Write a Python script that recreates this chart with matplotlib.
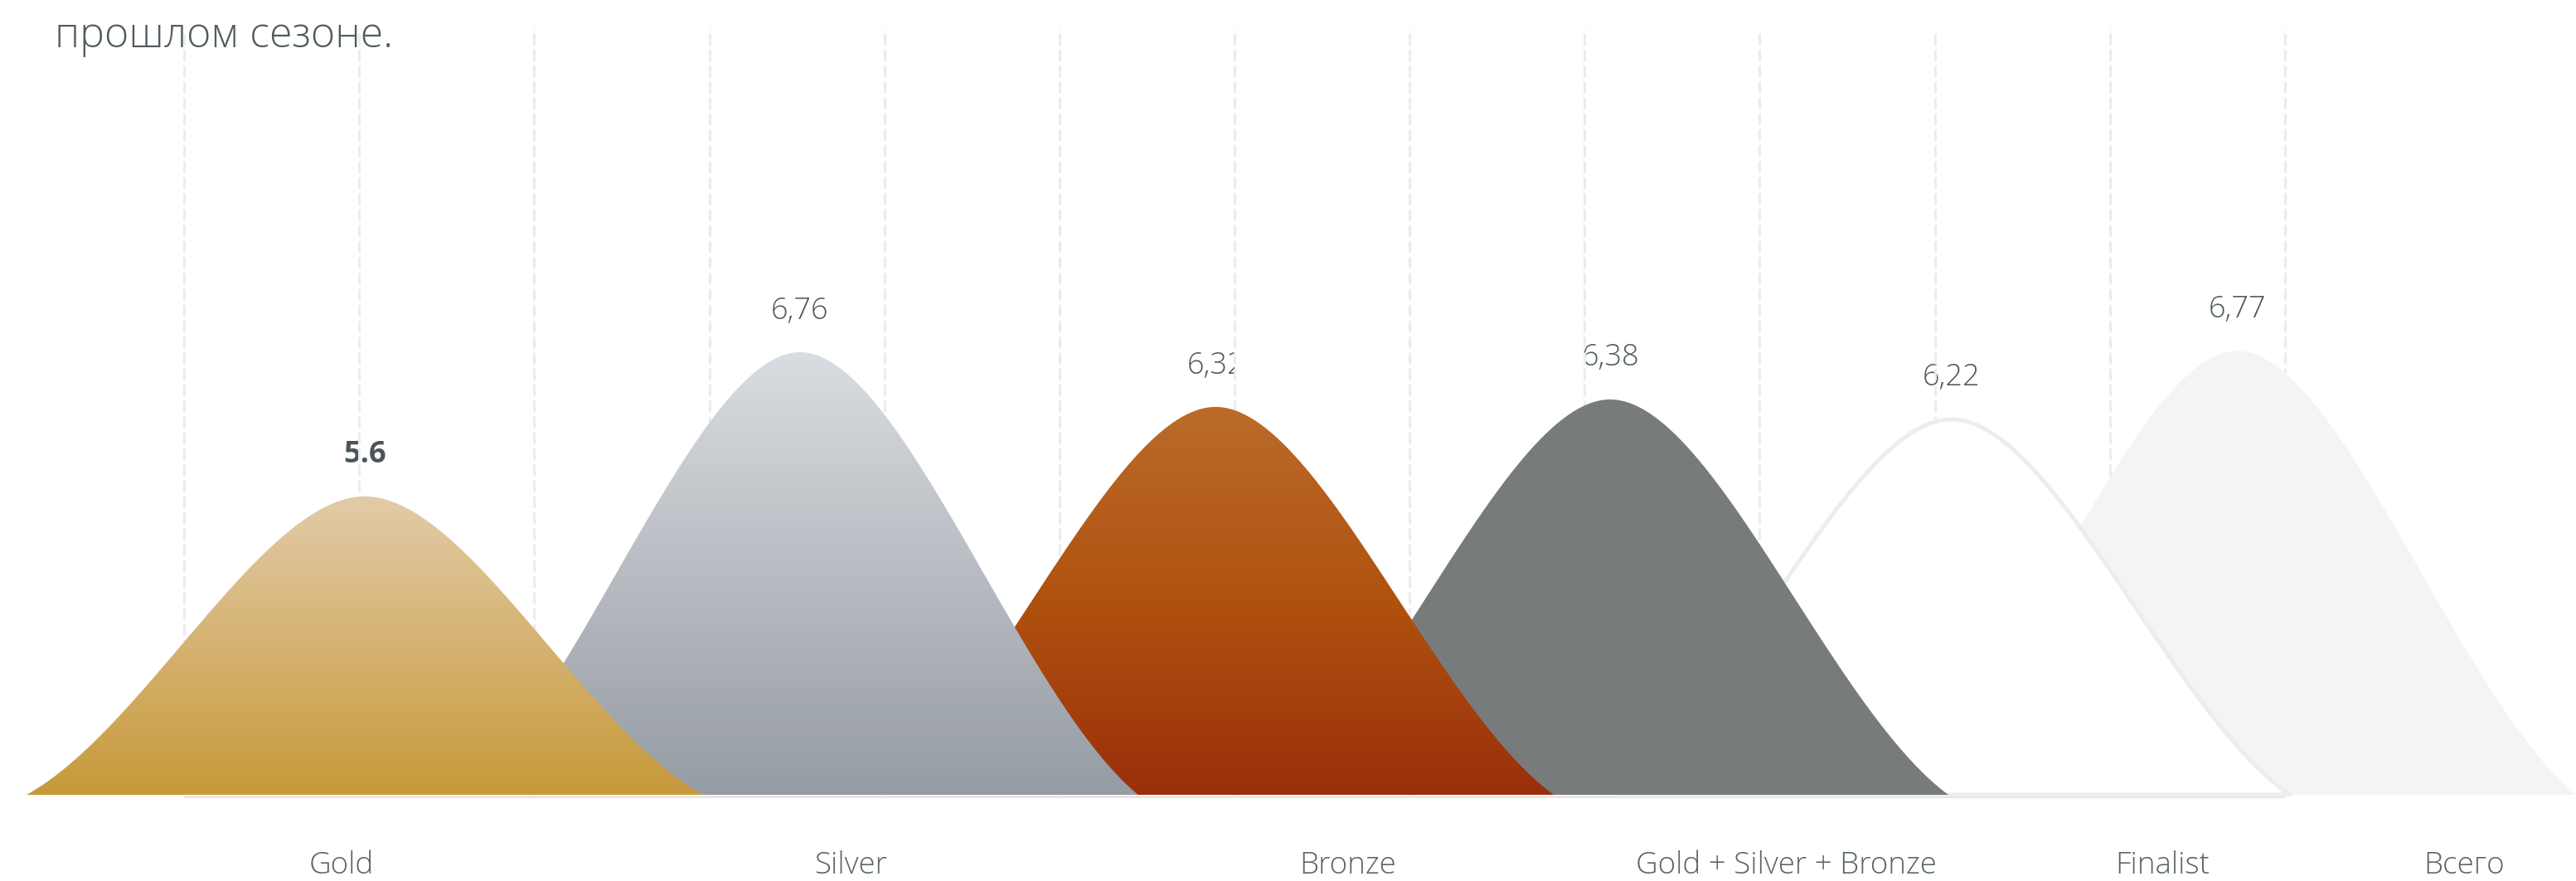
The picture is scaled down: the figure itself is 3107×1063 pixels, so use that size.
import numpy as np
import matplotlib
matplotlib.use("Agg")
import matplotlib.pyplot as plt
from matplotlib.patches import Polygon, Rectangle
from matplotlib.colors import LinearSegmentedColormap

# ---- data ----
categories = ["Gold", "Silver", "Bronze", "Gold + Silver + Bronze", "Finalist", "Всего"]
values = [5.6, 6.76, 6.32, 6.38, 6.22, 6.77]
value_labels = ["5.6", "6,76", "6,32", "6,38", "6,22", "6,77"]

# ---- layout (x in category slots: slot i spans i-0.5 .. i+0.5) ----
peak_pos = [0.016, 1.259, 2.446, 3.573, 4.548, 5.365]
label_pos = [-0.05, 1.404, 2.823, 4.075, 5.15, 6.012]
half_width = 0.966
base = 3.2

FONT = "Open Sans"
TEXT_COLOR = "#505b5f"

W, H = 3107, 1063
DPI = 100
fig = plt.figure(figsize=(W / DPI, H / DPI), dpi=DPI)
ax = fig.add_axes([0, 0, 1, 1])
ax.set_axis_off()

px_per_slot = 422.3
x0_px = 433.2
y_scale = 150.0      # pixels per value unit
base_px = 104.0      # baseline height from bottom, pixels

xlim = (-x0_px / px_per_slot, (W - x0_px) / px_per_slot)
ylim = (base - base_px / y_scale, base + (H - base_px) / y_scale)


def half_curve(n=200):
    """Left half of a curved column as a cubic Bezier in unit coords."""
    s = np.linspace(0, 1, n)
    p0, p1, p2, p3 = (-1.0, 0.0), (-0.65, 0.22), (-0.3, 1.0), (0.0, 1.0)
    bx = ((1 - s) ** 3 * p0[0] + 3 * (1 - s) ** 2 * s * p1[0]
          + 3 * (1 - s) * s ** 2 * p2[0] + s ** 3 * p3[0])
    by = ((1 - s) ** 3 * p0[1] + 3 * (1 - s) ** 2 * s * p1[1]
          + 3 * (1 - s) * s ** 2 * p2[1] + s ** 3 * p3[1])
    return bx, by


def curved_column(center, top):
    bx, by = half_curve()
    ux = np.concatenate([bx, -bx[::-1][1:]])
    uy = np.concatenate([by, by[::-1][1:]])
    xs = center + half_width * ux
    ys = base + (top - base) * uy
    return np.column_stack([xs, ys])


# dashed vertical grid (slot borders and slot centres)
grid_x = np.arange(-0.5, 5.5 + 0.01, 0.5)
grid_top = base + (H - 34 - base_px) / y_scale
ax.vlines(grid_x, base, grid_top, colors="#ececec", linewidth=2.2,
          linestyles=(0, (4.6, 1.7)), zorder=5)

# x axis line
ax.plot([-0.5, 5.5], [base - 2 / y_scale] * 2, color="#e6e6e6", lw=2.2,
        zorder=6, solid_capstyle="butt")

gradients = {
    "Gold": ["#e1cba8", "#d6b271", "#c69a3a"],
    "Silver": ["#d9dce0", "#b8bcc2", "#969ca4"],
    "Bronze": ["#bb6b2a", "#b0520f", "#9b2f0b"],
}
solid = {
    "Gold + Silver + Bronze": ("#787b7c", None),
    "Finalist": ("#ffffff", "#ededef"),
    "Всего": ("#f4f4f4", None),
}

for i, (cat, v, p) in enumerate(zip(categories, values, peak_pos)):
    z = 20 - i
    pts = curved_column(p, v)
    if cat in gradients:
        poly = Polygon(pts, closed=True, facecolor="none", edgecolor="none", zorder=z)
        ax.add_patch(poly)
        cmap = LinearSegmentedColormap.from_list(cat, gradients[cat][::-1])
        grad = np.linspace(0, 1, 256).reshape(-1, 1)
        im = ax.imshow(grad, extent=[p - half_width, p + half_width, base, v],
                       origin="lower", aspect="auto", cmap=cmap, zorder=z,
                       interpolation="bicubic")
        im.set_clip_path(poly)
    else:
        fc, ec = solid[cat]
        if ec is None:
            poly = Polygon(pts, closed=True, facecolor=fc, edgecolor="none", zorder=z)
        else:
            poly = Polygon(pts, closed=True, facecolor=fc, edgecolor=ec,
                           linewidth=3.6, joinstyle="round", zorder=z)
        ax.add_patch(poly)

# value labels above the peaks
clip_right = {2: 2.5}
clip_left = {3: 3.5}
for i, (v, p, lab) in enumerate(zip(values, peak_pos, value_labels)):
    bold = i == 0
    t = ax.annotate(lab, xy=(p, v), xytext=(0, 36), textcoords="offset points",
                    ha="center", va="center", fontsize=26,
                    fontfamily=FONT, fontweight="bold" if bold else "light",
                    color="#4a555a" if bold else TEXT_COLOR, zorder=4,
                    annotation_clip=False)
    if i in clip_right:
        r = Rectangle((-5, 0), clip_right[i] + 5, 20, transform=ax.transData)
        t.set_clip_on(True)
        t.set_clip_path(r)
    if i in clip_left:
        r = Rectangle((clip_left[i], 0), 10, 20, transform=ax.transData)
        t.set_clip_on(True)
        t.set_clip_path(r)

# category labels
trans = ax.get_xaxis_transform()
for cat, lp in zip(categories, label_pos):
    ax.text(lp, 18 / H, cat, transform=trans, ha="center", va="center",
            fontsize=26.5, fontfamily=FONT, fontweight="light", color="#5a6569")

# caption fragment
fig.text(66 / W, 1 - 57 / H, "прошлом сезоне.", ha="left", va="baseline",
         fontsize=36, fontfamily=FONT, fontweight="light", color=TEXT_COLOR)

ax.set_xlim(*xlim)
ax.set_ylim(*ylim)

fig.savefig("out.png", dpi=DPI, facecolor="white")
